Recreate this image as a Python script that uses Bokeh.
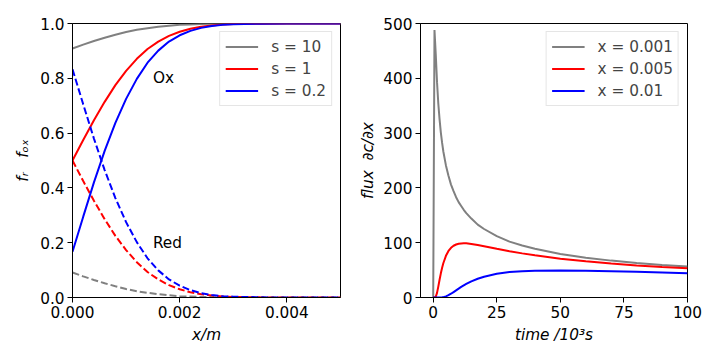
from bokeh.plotting import figure
from bokeh.layouts import row
from bokeh.models import Range1d, FixedTicker, PrintfTickFormatter, Legend, LegendItem
from bokeh.core.properties import value
from bokeh.embed import file_html
from bokeh.resources import INLINE

# ---------------- Left panel data: concentration profiles ----------------
x_pos = [0.0, 0.0002, 0.0004, 0.0006, 0.0008, 0.001, 0.0012, 0.0014, 0.0016,
         0.0018, 0.002, 0.0022, 0.0024, 0.0026, 0.0028, 0.003, 0.0035, 0.004, 0.005]

ox_s10 = [0.909, 0.923, 0.936, 0.948, 0.959, 0.969, 0.977, 0.983, 0.988, 0.992,
          0.995, 0.9965, 0.998, 0.9987, 0.9992, 0.9996, 0.9999, 1.0, 1.0]
red_s10 = [0.091, 0.077, 0.064, 0.052, 0.041, 0.031, 0.023, 0.017, 0.012, 0.008,
           0.005, 0.0035, 0.002, 0.0013, 0.0008, 0.0004, 0.0001, 0.0, 0.0]

ox_s1 = [0.5, 0.575, 0.647, 0.714, 0.775, 0.827, 0.871, 0.907, 0.934, 0.955,
         0.970, 0.981, 0.988, 0.993, 0.996, 0.998, 0.9995, 0.9999, 1.0]
red_s1 = [0.5, 0.425, 0.353, 0.286, 0.225, 0.173, 0.129, 0.093, 0.066, 0.045,
          0.030, 0.019, 0.012, 0.007, 0.004, 0.002, 0.0005, 0.0001, 0.0]

ox_s02 = [0.167, 0.295, 0.420, 0.535, 0.637, 0.725, 0.798, 0.857, 0.901, 0.934,
          0.957, 0.973, 0.984, 0.991, 0.995, 0.997, 0.9994, 0.9999, 1.0]
red_s02 = [0.833, 0.705, 0.580, 0.465, 0.363, 0.275, 0.202, 0.143, 0.099, 0.066,
           0.043, 0.027, 0.016, 0.009, 0.005, 0.003, 0.0006, 0.0001, 0.0]

s_labels = ["s = 10", "s = 1", "s = 0.2"]
s_colors = ["grey", "red", "blue"]

note_x = [0.0015, 0.0015]
note_y = [0.8, 0.2]
note_text = ["Ox", "Red"]

left_xticks = [0.0, 0.002, 0.004]
left_yticks = [0.0, 0.2, 0.4, 0.6, 0.8, 1.0]

# ---------------- Right panel data: flux vs time ----------------
time_k = [0, 0.5, 1, 1.5, 2, 2.5, 3, 3.5, 4, 5, 6, 7, 8, 9, 10, 11, 12, 13,
          15, 17.5, 20, 25, 30, 35, 40, 50, 60, 70, 80, 90, 100]
flux_x0001 = [0, 488, 444, 393, 354, 325, 301, 282, 266, 241, 222, 206, 194, 183,
              174, 167, 160, 154, 144, 133, 125, 112, 102, 95, 89, 79.5, 72.6,
              67.3, 63.0, 59.4, 56.4]
flux_x0005 = [0, 0, 1.4, 8.4, 19.9, 32.4, 44.1, 54.4, 63.0, 76.1, 84.9, 90.6, 94.4,
              96.7, 98.1, 98.7, 98.9, 98.8, 97.8, 95.9, 93.6, 88.9, 84.5, 80.5,
              76.9, 70.9, 66.0, 62.0, 58.6, 55.8, 53.2]
flux_x001 = [0, 0, 0, 0, 0, 0.02, 0.11, 0.32, 0.70, 2.1, 4.2, 6.9, 9.9, 13.1, 16.2,
             19.3, 22.1, 24.7, 29.5, 34.3, 38.0, 43.3, 46.4, 48.1, 49.0, 49.4,
             48.9, 47.9, 46.8, 45.7, 44.4]

x_labels = ["x = 0.001", "x = 0.005", "x = 0.01"]

right_xticks = [0, 25, 50, 75, 100]
right_yticks = [0, 100, 200, 300, 400, 500]

FONT = "DejaVu Sans"
FS = "15.3px"
LW = 2


def style(p):
    p.outline_line_color = "black"
    p.outline_line_width = 1
    p.outline_line_alpha = 1
    p.grid.visible = False
    p.background_fill_color = "white"
    p.border_fill_color = "white"
    for ax in p.axis:
        ax.axis_line_color = "black"
        ax.major_tick_line_color = "black"
        ax.major_tick_out = 5
        ax.major_tick_in = 0
        ax.minor_tick_out = 0
        ax.minor_tick_in = 0
        ax.major_label_text_font = FONT
        ax.major_label_text_font_size = FS
        ax.major_label_text_color = "black"
        ax.major_label_standoff = 3
        ax.axis_label_text_font = FONT
        ax.axis_label_text_font_size = FS
        ax.axis_label_text_font_style = "italic"
        ax.axis_label_text_color = "black"
        ax.axis_label_standoff = 5


def make_legend(items):
    return Legend(items=items, location="top_right", margin=8, padding=5,
                  spacing=3, glyph_width=33, glyph_height=19, label_height=19,
                  label_standoff=13, label_text_font=FONT, label_text_font_size=FS,
                  border_line_color="#cccccc", border_line_width=1,
                  background_fill_color="white", background_fill_alpha=0.8)


# ---------------- Left figure ----------------
p1 = figure(width=355, height=352,
            x_range=Range1d(0, 0.005), y_range=Range1d(0, 1),
            output_backend="svg", toolbar_location=None,
            min_border_left=72, min_border_right=15,
            min_border_top=23, min_border_bottom=55)

ox_series = [ox_s10, ox_s1, ox_s02]
red_series = [red_s10, red_s1, red_s02]
items1 = []
for lab, col, ox, rd in zip(s_labels, s_colors, ox_series, red_series):
    r = p1.line(x_pos, ox, line_color=col, line_width=LW)
    p1.line(x_pos, rd, line_color=col, line_width=LW, line_dash="7 3")
    items1.append(LegendItem(label=lab, renderers=[r]))

p1.text(x=note_x, y=note_y, text=note_text, text_font=value(FONT),
        text_font_size=value(FS), text_align="left",
        text_baseline="alphabetic", text_color="black")

p1.xaxis.ticker = FixedTicker(ticks=left_xticks)
p1.yaxis.ticker = FixedTicker(ticks=left_yticks)
p1.xaxis.formatter = PrintfTickFormatter(format="%.3f")
p1.yaxis.formatter = PrintfTickFormatter(format="%.1f")
p1.xaxis.axis_label = "f\u1d63\u00a0\u00a0\u00a0f\u2092\u2093".replace("f\u1d63", "x/m") if False else "x/m"
p1.yaxis.axis_label = "f\u1d63\u00a0\u00a0\u00a0f\u2092\u2093"
style(p1)
p1.add_layout(make_legend(items1))

# ---------------- Right figure ----------------
p2 = figure(width=357, height=352,
            x_range=Range1d(-5, 100), y_range=Range1d(0, 500),
            output_backend="svg", toolbar_location=None,
            min_border_left=65, min_border_right=25,
            min_border_top=23, min_border_bottom=55)

items2 = []
for lab, col, fl in zip(x_labels, s_colors, [flux_x0001, flux_x0005, flux_x001]):
    r = p2.line(time_k, fl, line_color=col, line_width=LW)
    items2.append(LegendItem(label=lab, renderers=[r]))

p2.xaxis.ticker = FixedTicker(ticks=right_xticks)
p2.yaxis.ticker = FixedTicker(ticks=right_yticks)
p2.xaxis.formatter = PrintfTickFormatter(format="%d")
p2.yaxis.formatter = PrintfTickFormatter(format="%d")
p2.xaxis.axis_label = "time /10\u00b3s"
p2.yaxis.axis_label = "flux\u00a0\u00a0\u2202c/\u2202x"
style(p2)
p2.yaxis.axis_label_standoff = 3
p2.add_layout(make_legend(items2))

layout = row(p1, p2)
open("out.html", "w").write(file_html(layout, INLINE))
